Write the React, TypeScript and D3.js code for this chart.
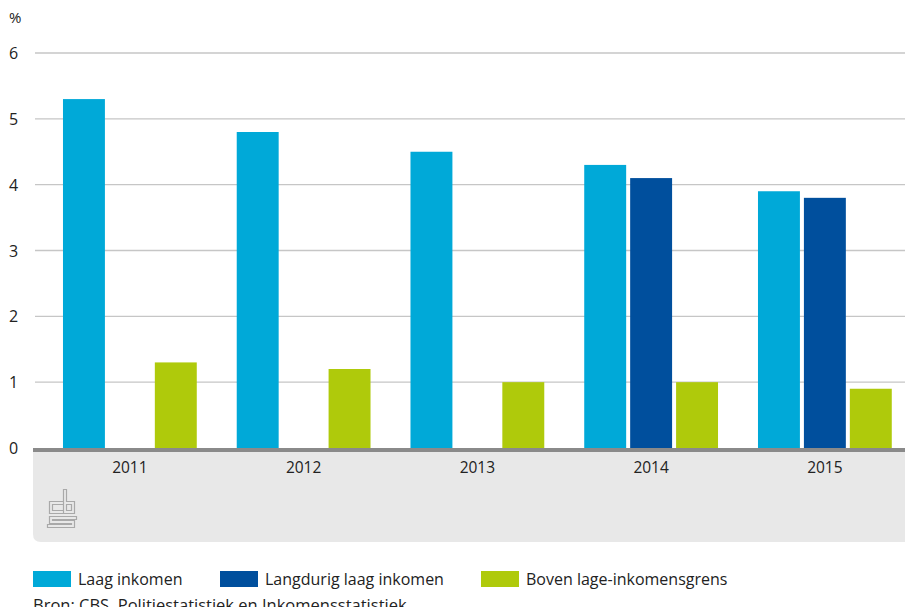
import React from "react";
import * as d3 from "d3";

const years = ["2011", "2012", "2013", "2014", "2015"];
const seriesNames = ["Laag inkomen", "Langdurig laag inkomen", "Boven lage-inkomensgrens"];
const laagInkomen = [5.3, 4.8, 4.5, 4.3, 3.9];
const langdurigLaag = [null, null, null, 4.1, 3.8];
const bovenGrens = [1.3, 1.2, 1.0, 1.0, 0.9];
const yTicks = [0, 1, 2, 3, 4, 5, 6];
const colors = ["#00a9d8", "#004f9d", "#afca0b"];
const source = "Bron: CBS, Politiestatistiek en Inkomensstatistiek.";

const W = 913;
const H = 615;
const FONT = "'Open Sans', 'Noto Sans', sans-serif";

// outlined letter strokes for the little logo
const logoPaths = [
  "M62,503 H51 V512 H62",
  "M65,491 V512 H73 V503 H65",
  "M75,518 H51 V522 H73 V526 H49",
];

export default function App() {
  const series = [laagInkomen, langdurigLaag, bovenGrens];

  const y = d3.scaleLinear().domain([0, 6]).range([448, 53]);
  const x = d3
    .scaleBand()
    .domain(years)
    .range([43, 911.75])
    .paddingInner(0.23)
    .paddingOuter(0.115);
  const xs = d3
    .scaleBand()
    .domain(seriesNames)
    .range([0, x.bandwidth()])
    .paddingInner(0.087);

  // legend positions (x of swatch)
  const legendX = [33, 220, 481];

  return (
    <div style={{ margin: -8 }}>
      <svg width={W} height={H} style={{ display: "block", background: "#fff" }} fontFamily={FONT}>
        <text x={9} y={23} fontSize={15} fill="#222">%</text>

        {yTicks.map((t) => (
          <g key={t}>
            {t > 0 && (
              <line x1={35} x2={W} y1={y(t)} y2={y(t)} stroke="#c6c6c6" strokeWidth={1.3} />
            )}
            <text x={9} y={y(t) + 6} fontSize={16} fill="#222">
              {t}
            </text>
          </g>
        ))}

        {/* grey axis panel */}
        <path d={`M33,450 H${W} V542 H41 Q33,542 33,534 Z`} fill="#e8e8e8" />
        <rect x={33} y={448} width={W - 33} height={4} fill="#8a8a8a" />

        {years.map((yr, i) => (
          <g key={yr} transform={`translate(${x(yr)},0)`}>
            {series.map((s, j) => {
              const v = s[i];
              if (v == null) return null;
              return (
                <rect
                  key={j}
                  x={xs(seriesNames[j])}
                  y={y(v)}
                  width={xs.bandwidth()}
                  height={y(0) - y(v)}
                  fill={colors[j]}
                />
              );
            })}
            <text x={x.bandwidth() / 2} y={473} fontSize={15.5} fill="#222" textAnchor="middle">
              {yr}
            </text>
          </g>
        ))}

        {/* logo */}
        <g fill="none" strokeLinecap="square">
          {logoPaths.map((d, k) => (
            <path key={"o" + k} d={d} stroke="#a9a9a9" strokeWidth={4.2} />
          ))}
          {logoPaths.map((d, k) => (
            <path key={"i" + k} d={d} stroke="#e8e8e8" strokeWidth={1.8} />
          ))}
        </g>

        {seriesNames.map((n, j) => (
          <g key={n}>
            <rect x={legendX[j]} y={571} width={38} height={16} fill={colors[j]} />
            <text x={legendX[j] + 45} y={585} fontSize={16} fill="#222">
              {n}
            </text>
          </g>
        ))}

        <text x={33} y={611} fontSize={16.5} fill="#222">
          {source}
        </text>
      </svg>
    </div>
  );
}
